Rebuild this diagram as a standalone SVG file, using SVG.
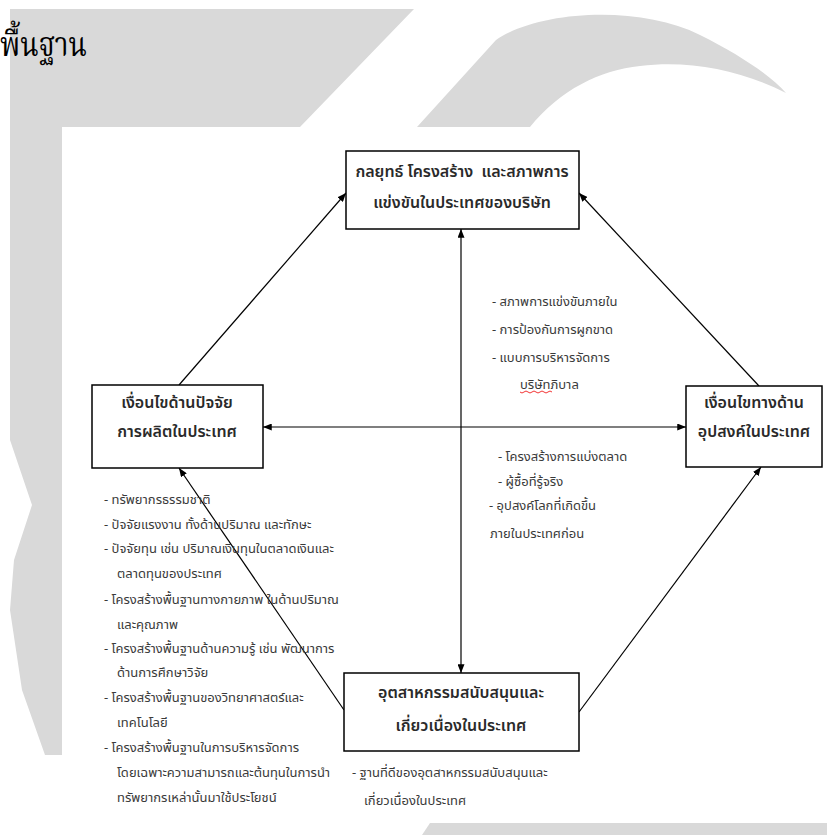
<svg xmlns="http://www.w3.org/2000/svg" width="827" height="835" viewBox="0 0 827 835">
<style>
.bg{fill:#d9d9d9}
.box{fill:#fff;stroke:#000;stroke-width:1.5}
.t{font-family:Tahoma,"Noto Sans Thai","Loma","Garuda","DejaVu Sans",sans-serif;font-size:16px;font-weight:600;fill:#2a2a2a;text-anchor:middle}
.s{font-family:Tahoma,"Noto Sans Thai","Loma","Garuda","DejaVu Sans",sans-serif;font-size:13px;fill:#3a3a3a}
.h{font-family:"Noto Serif Thai","Noto Sans Thai","Loma","Garuda",serif;font-size:28px;fill:#000}
.c{stroke:#000;stroke-width:1.2;fill:none}
</style>
<defs>
<marker id="ah" viewBox="0 0 10 8" refX="10" refY="4" markerWidth="9" markerHeight="7" markerUnits="userSpaceOnUse" orient="auto-start-reverse"><path d="M0,0L10,4L0,8z" fill="#000"/></marker>
</defs>
<rect width="827" height="835" fill="#fff"/>
<g id="watermark">
<polygon class="bg" points="10,9 414,9 300,127 62,127 62,755 45,755 22,690 10,610 14,560 32,505 10,440 10,300"/>
<path class="bg" d="M417,127 L496,40 C540,10 640,5 700,35 C740,55 770,75 786,93 C740,70 690,60 640,66 C600,70 560,90 530,127 Z"/>
<polygon class="bg" points="430,823 827,823 827,835 422,835"/>
</g>
<rect x="62" y="127" width="765" height="696" fill="#fff"/>
<text class="h" transform="translate(0,56) scale(1,1.2)">พื้นฐาน</text>
<g id="connectors">
<line class="c" x1="263" y1="427" x2="686" y2="427" marker-start="url(#ah)" marker-end="url(#ah)"/>
<line class="c" x1="461" y1="229" x2="461" y2="673" marker-start="url(#ah)" marker-end="url(#ah)"/>
<line class="c" x1="179" y1="385" x2="346" y2="193" marker-end="url(#ah)"/>
<line class="c" x1="759" y1="386" x2="579" y2="193" marker-end="url(#ah)"/>
<line class="c" x1="344" y1="710" x2="179" y2="468" marker-end="url(#ah)"/>
<line class="c" x1="579" y1="712" x2="761" y2="467" marker-end="url(#ah)"/>
</g>
<g id="top">
<rect class="box" x="346" y="151" width="233" height="78"/>
<text class="t" x="462" y="177" xml:space="preserve">กลยุทธ์ โครงสร้าง  และสภาพการ</text>
<text class="t" x="462" y="208">แข่งขันในประเทศของบริษัท</text>
</g>
<g id="left">
<rect class="box" x="92" y="385" width="171" height="83"/>
<text class="t" x="177" y="408">เงื่อนไขด้านปัจจัย</text>
<text class="t" x="177" y="437">การผลิตในประเทศ</text>
</g>
<g id="right">
<rect class="box" x="686" y="386" width="136" height="81"/>
<text class="t" x="754" y="408">เงื่อนไขทางด้าน</text>
<text class="t" x="754" y="437">อุปสงค์ในประเทศ</text>
</g>
<g id="bottom">
<rect class="box" x="344" y="673" width="235" height="78"/>
<text class="t" x="461" y="698">อุตสาหกรรมสนับสนุนและ</text>
<text class="t" x="461" y="731">เกี่ยวเนื่องในประเทศ</text>
</g>
<g id="notes-top">
<text class="s" x="492" y="306">-  สภาพการแข่งขันภายใน</text>
<text class="s" x="492" y="334">-  การป้องกันการผูกขาด</text>
<text class="s" x="492" y="362">-  แบบการบริหารจัดการ</text>
<text class="s" x="520" y="389">บริษัทภิบาล</text>
<path d="M520,392 q2,2 4,0 t4,0 t4,0 t4,0 t4,0 t4,0 t4,0 t4,0" stroke="#e00" stroke-width="0.8" fill="none"/>
</g>
<g id="notes-demand">
<text class="s" x="498" y="461">-  โครงสร้างการแบ่งตลาด</text>
<text class="s" x="498" y="486">-  ผู้ซื้อที่รู้จริง</text>
<text class="s" x="489" y="510">-  อุปสงค์โลกที่เกิดขึ้น</text>
<text class="s" x="490" y="538">ภายในประเทศก่อน</text>
</g>
<g id="notes-factor">
<text class="s" x="104" y="504">-  ทรัพยากรธรรมชาติ</text>
<text class="s" x="104" y="529">-  ปัจจัยแรงงาน ทั้งด้านปริมาณ และทักษะ</text>
<text class="s" x="104" y="553">-  ปัจจัยทุน เช่น ปริมาณเงินทุนในตลาดเงินและ</text>
<text class="s" x="117" y="578">ตลาดทุนของประเทศ</text>
<text class="s" x="104" y="604">-  โครงสร้างพื้นฐานทางกายภาพ  ในด้านปริมาณ</text>
<text class="s" x="117" y="629">และคุณภาพ</text>
<text class="s" x="104" y="653">-  โครงสร้างพื้นฐานด้านความรู้ เช่น พัฒนาการ</text>
<text class="s" x="117" y="677">ด้านการศึกษาวิจัย</text>
<text class="s" x="104" y="702">-  โครงสร้างพื้นฐานของวิทยาศาสตร์และ</text>
<text class="s" x="117" y="727">เทคโนโลยี</text>
<text class="s" x="104" y="752">-  โครงสร้างพื้นฐานในการบริหารจัดการ</text>
<text class="s" x="117" y="777">โดยเฉพาะความสามารถและต้นทุนในการนำ</text>
<text class="s" x="117" y="802">ทรัพยากรเหล่านั้นมาใช้ประโยชน์</text>
</g>
<g id="notes-support">
<text class="s" x="352" y="777">- ฐานที่ดีของอุตสาหกรรมสนับสนุนและ</text>
<text class="s" x="364" y="805">เกี่ยวเนื่องในประเทศ</text>
</g>
</svg>
